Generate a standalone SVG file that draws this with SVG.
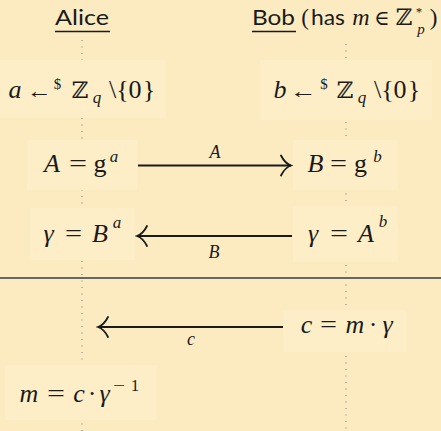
<svg xmlns="http://www.w3.org/2000/svg" width="441" height="431" viewBox="0 0 441 431">
<defs>
<style>
.bg{fill:#fcebc1}
.box{fill:#fdeec7}
.t{font-family:"Liberation Serif","DejaVu Serif",serif;font-size:26px;fill:#1a1a1a;text-anchor:middle}
.i{font-style:italic}
.s{font-size:17px}
.ss{font-size:15px}
.lb{font-size:18px}
.z{font-family:"DejaVu Serif","DejaVu Sans",serif;font-size:23px}
.h{font-family:Lato,"Liberation Sans",sans-serif;font-size:22px;fill:#1a1a1a}
.ul{stroke:#1a1a1a;stroke-width:1.3}
.life{stroke:#777;stroke-width:1;stroke-dasharray:1 5.5;fill:none}
.msg{stroke:#1a1a1a;stroke-width:1.8;fill:none}
</style>
<marker id="ah" markerUnits="userSpaceOnUse" markerWidth="14" markerHeight="24" viewBox="-12 -12 14 24" refX="0" refY="0" orient="auto">
<path d="M-10,-10 C-7,-4 -3,-1 0,0 C-3,1 -7,4 -10,10" fill="none" stroke="#1a1a1a" stroke-width="1.8" stroke-linecap="round"/>
</marker>
</defs>
<rect class="bg" x="0" y="0" width="441" height="431"/>
<g id="connectors">
<line class="life" x1="82" y1="40" x2="82" y2="431"/>
<line class="life" x1="346" y1="44" x2="346" y2="431"/>
<line x1="0" y1="278" x2="441" y2="278" stroke="#666" stroke-width="2"/>
<path class="msg" d="M138,165.5 H291" marker-end="url(#ah)"/>
<text class="t i lb" x="215" y="158">A</text>
<path class="msg" d="M292,236 H137" marker-end="url(#ah)"/>
<text class="t i lb" x="214" y="258">B</text>
<path class="msg" d="M283,327 H98" marker-end="url(#ah)"/>
<text class="t i lb" x="191" y="345">c</text>
</g>
<g id="alice">
<text class="h" x="55" y="25" textLength="54" lengthAdjust="spacingAndGlyphs">Alice</text>
<line class="ul" x1="55" y1="31.5" x2="110" y2="31.5"/>
</g>
<g id="bob">
<text class="h" x="252" y="25" textLength="43" lengthAdjust="spacingAndGlyphs">Bob</text>
<line class="ul" x1="252" y1="31.5" x2="296" y2="31.5"/>
<text class="t" x="305" y="25" style="font-size:23px">(</text>
<text class="h" x="311" y="25" textLength="34" lengthAdjust="spacingAndGlyphs">has</text>
<text class="t i" x="361" y="25" style="font-size:24px">m</text>
<text class="t" x="382" y="25" style="font-size:21px">∈</text>
<text class="t z" x="404" y="25">ℤ</text>
<text class="t" x="419" y="16" style="font-size:13px">*</text>
<text class="t i" x="421" y="34" style="font-size:15px">p</text>
<text class="t" x="433.5" y="25" style="font-size:23px">)</text>
</g>
<g id="alice-sample">
<rect class="box" x="0" y="60" width="166" height="58"/>
<text class="t i" x="15" y="98">a</text>
<text class="t" x="27" y="98" style="font-size:22px;text-anchor:start" textLength="25" lengthAdjust="spacingAndGlyphs">←</text>
<text class="t ss" x="57.5" y="89">$</text>
<text class="t z" x="80" y="98">ℤ</text>
<text class="t i s" x="97" y="103">q</text>
<text class="t" x="112.5" y="98">\</text>
<text class="t" x="122.5" y="98">{</text>
<text class="t" x="135" y="98">0</text>
<text class="t" x="149" y="98">}</text>
</g>
<g id="bob-sample">
<rect class="box" x="260" y="60" width="172" height="60"/>
<text class="t i" x="280" y="98">b</text>
<text class="t" x="290" y="98" style="font-size:22px;text-anchor:start" textLength="27" lengthAdjust="spacingAndGlyphs">←</text>
<text class="t ss" x="324" y="89">$</text>
<text class="t z" x="345" y="98">ℤ</text>
<text class="t i s" x="362" y="103">q</text>
<text class="t" x="377.5" y="98">\</text>
<text class="t" x="387.5" y="98">{</text>
<text class="t" x="400" y="98">0</text>
<text class="t" x="414" y="98">}</text>
</g>
<g id="alice-A">
<rect class="box" x="27" y="140" width="110" height="50"/>
<text class="t i" x="52" y="172">A</text>
<text class="t" x="69" y="172" style="text-anchor:start" textLength="18" lengthAdjust="spacingAndGlyphs">=</text>
<text class="t" x="100" y="172">g</text>
<text class="t i s" x="114" y="162">a</text>
</g>
<g id="bob-B">
<rect class="box" x="293" y="140" width="105" height="50"/>
<text class="t i" x="315.5" y="172">B</text>
<text class="t" x="330" y="172" style="text-anchor:start" textLength="17" lengthAdjust="spacingAndGlyphs">=</text>
<text class="t" x="360.5" y="172">g</text>
<text class="t i s" x="377.5" y="162">b</text>
</g>
<g id="alice-gamma">
<rect class="box" x="30" y="208" width="105" height="52"/>
<text class="t i" x="48.5" y="242">γ</text>
<text class="t" x="65" y="242" style="text-anchor:start" textLength="17" lengthAdjust="spacingAndGlyphs">=</text>
<text class="t i" x="100" y="242">B</text>
<text class="t i s" x="117" y="228">a</text>
</g>
<g id="bob-gamma">
<rect class="box" x="293" y="206" width="105" height="56"/>
<text class="t i" x="313" y="242">γ</text>
<text class="t" x="330" y="242" style="text-anchor:start" textLength="18" lengthAdjust="spacingAndGlyphs">=</text>
<text class="t i" x="366" y="242">A</text>
<text class="t i s" x="383" y="227">b</text>
</g>
<g id="bob-c">
<rect class="box" x="283" y="310" width="124" height="42"/>
<text class="t i" x="306.5" y="333">c</text>
<text class="t" x="320" y="333" style="text-anchor:start" textLength="17" lengthAdjust="spacingAndGlyphs">=</text>
<text class="t i" x="355" y="333">m</text>
<text class="t" x="373" y="333">·</text>
<text class="t i" x="387.5" y="333">γ</text>
</g>
<g id="alice-m">
<rect class="box" x="5" y="365" width="152" height="55"/>
<text class="t i" x="29" y="402">m</text>
<text class="t" x="47" y="402" style="text-anchor:start" textLength="18" lengthAdjust="spacingAndGlyphs">=</text>
<text class="t i" x="79" y="402">c</text>
<text class="t" x="92" y="402">·</text>
<text class="t i" x="104.5" y="402">γ</text>
<text class="t s" x="113" y="391" style="text-anchor:start" textLength="12" lengthAdjust="spacingAndGlyphs">−</text>
<text class="t s" x="135" y="391">1</text>
</g>
</svg>
